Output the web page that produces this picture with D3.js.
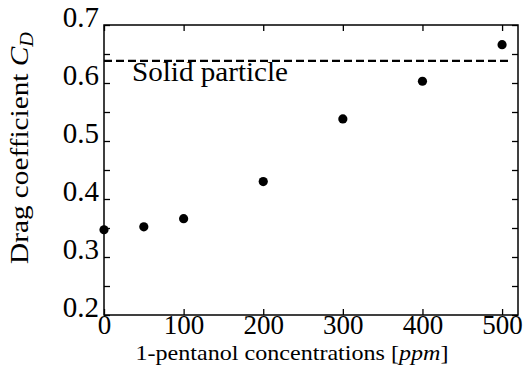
<!DOCTYPE html>
<html>
<head>
<meta charset="utf-8">
<script src="https://cdn.jsdelivr.net/npm/d3@7"></script>
<style>
  body { margin: 0; background: #fff; }
</style>
</head>
<body>
<svg id="chart" width="526" height="367"></svg>
<script>
// data
const concentrations = [0, 50, 100, 200, 300, 400, 500];
const dragCoef = [0.347, 0.352, 0.366, 0.430, 0.538, 0.603, 0.666];
const solidParticle = 0.638;
const xTicks = [0, 100, 200, 300, 400, 500];
const yTicks = [0.2, 0.25, 0.3, 0.35, 0.4, 0.45, 0.5, 0.55, 0.6, 0.65, 0.7];
const yLabels = [0.2, 0.3, 0.4, 0.5, 0.6, 0.7];

const serif = '"Liberation Serif", "Times New Roman", Times, serif';
const svg = d3.select('#chart').attr('font-family', serif);
const mLeft = 104, mRight = 518, mTop = 25, mBottom = 315;

const x = d3.scaleLinear().domain([0, 520]).range([mLeft, mRight]);
const y = d3.scaleLinear().domain([0.2, 0.7]).range([mBottom, mTop]);

// bottom axis, ticks pointing in
const gx = svg.append('g').attr('transform', `translate(0,${mBottom})`)
  .call(d3.axisBottom(x).tickValues(xTicks).tickSize(-6).tickPadding(0).tickFormat(d3.format('d')));
gx.attr('font-family', serif).attr('font-size', 27);
gx.selectAll('text').attr('dy', '0.7em');

// top axis, ticks only
svg.append('g').attr('transform', `translate(0,${mTop})`)
  .call(d3.axisTop(x).tickValues(xTicks).tickSize(-6).tickFormat(''));

// left axis
const gy = svg.append('g').attr('transform', `translate(${mLeft},0)`)
  .call(d3.axisLeft(y).tickValues(yTicks).tickSize(-6).tickPadding(5)
    .tickFormat(d => yLabels.some(v => Math.abs(v - d) < 1e-9) ? d3.format('.1f')(d) : ''));
gy.attr('font-family', serif).attr('font-size', 29);
gy.selectAll('text').attr('dy', '0.06em');

// right axis, ticks only
svg.append('g').attr('transform', `translate(${mRight},0)`)
  .call(d3.axisRight(y).tickValues(yTicks).tickSize(-6).tickFormat(''));

svg.selectAll('.domain').remove();
svg.selectAll('.tick line').attr('stroke', '#000').attr('stroke-width', 1.3);
svg.selectAll('.tick text').attr('fill', '#000');

// frame
svg.append('rect')
  .attr('x', mLeft).attr('y', mTop)
  .attr('width', mRight - mLeft).attr('height', mBottom - mTop)
  .attr('fill', 'none').attr('stroke', '#000').attr('stroke-width', 1.5);

// solid particle line
svg.append('line')
  .attr('x1', x(0)).attr('x2', x(510))
  .attr('y1', y(solidParticle)).attr('y2', y(solidParticle))
  .attr('stroke', '#000').attr('stroke-width', 2.2).attr('stroke-dasharray', '8,4');

svg.append('text')
  .attr('x', 132).attr('y', y(solidParticle) + 20)
  .attr('font-family', serif).attr('font-size', 27)
  .attr('textLength', 156).attr('lengthAdjust', 'spacingAndGlyphs')
  .text('Solid particle');

// points
svg.append('g').selectAll('circle')
  .data(concentrations.map((c, i) => [c, dragCoef[i]]))
  .enter().append('circle')
  .attr('cx', d => x(d[0])).attr('cy', d => y(d[1]))
  .attr('r', 4.6).attr('fill', '#000');

// axis titles
const yt = svg.append('text')
  .attr('transform', 'translate(28,148) rotate(-90)')
  .attr('text-anchor', 'middle').attr('font-family', serif).attr('font-size', 26)
  .attr('textLength', 232).attr('lengthAdjust', 'spacingAndGlyphs');
yt.append('tspan').text('Drag coefficient ');
yt.append('tspan').attr('font-style', 'italic').text('C');
yt.append('tspan').attr('font-style', 'italic').attr('font-size', 18).attr('dy', 5).text('D');

const xt = svg.append('text')
  .attr('x', 292).attr('y', 360)
  .attr('text-anchor', 'middle').attr('font-family', serif).attr('font-size', 21)
  .attr('textLength', 313).attr('lengthAdjust', 'spacingAndGlyphs');
xt.append('tspan').text('1-pentanol concentrations [');
xt.append('tspan').attr('font-style', 'italic').text('ppm');
xt.append('tspan').text(']');
</script>
</body>
</html>
